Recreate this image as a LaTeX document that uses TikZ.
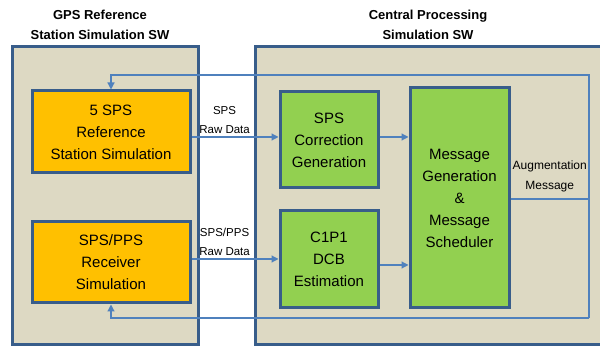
\documentclass[tikz,border=0pt]{standalone}
\usepackage{fontspec}
\setmainfont{Liberation Sans}
\usetikzlibrary{arrows.meta}

\definecolor{fondo}{HTML}{DDD9C3}
\definecolor{bordo}{HTML}{385D8A}
\definecolor{arancio}{HTML}{FFC000}
\definecolor{verde}{HTML}{92D050}
\definecolor{linea}{HTML}{4F81BD}

\tikzset{
  swbox/.style={draw=bordo, fill=fondo, line width=3pt, inner sep=0pt},
  blocco/.style={draw=bordo, line width=3pt, align=center, inner sep=0pt, font=\fontsize{15}{22}\selectfont},
  titolo/.style={align=center, font=\bfseries\fontsize{13}{20}\selectfont},
  etich/.style={align=center, inner sep=0pt, text=black, font=\fontsize{11.5}{19}\selectfont},
  conn/.style={draw=linea, line width=1.2pt, -{Triangle[length=7pt,width=7pt]}},
}

\begin{document}
\begin{tikzpicture}[x=1pt,y=-1pt]
    \fill[white] (0,0) rectangle (600,347);
    \useasboundingbox (0,0) rectangle (600,347);
    %titoli
    \node[titolo] (tref) at (100,25) {GPS Reference\\Station Simulation SW};
    \node[titolo] (tcen) at (428,25) {Central Processing\\Simulation SW};
    %contenitori
    \node[swbox, minimum width=186pt, minimum height=298pt] (refsw) at (105,196) {};
    \node[swbox, minimum width=365pt, minimum height=298pt] (censw) at (437.5,196) {};
    %blocchi stazione
    \node[blocco, fill=arancio, minimum width=158pt, minimum height=82pt] (sps5) at (111,132) {5 SPS\\Reference\\Station Simulation};
    \node[blocco, fill=arancio, minimum width=158pt, minimum height=81pt] (rcv) at (111,262.5) {SPS/PPS\\Receiver\\Simulation};
    %blocchi elaborazione
    \node[blocco, fill=verde, minimum width=98pt, minimum height=96pt] (corr) at (329,140) {SPS\\Correction\\Generation};
    \node[blocco, fill=verde, minimum width=98pt, minimum height=97pt] (dcb) at (329,259.5) {C1P1\\DCB\\Estimation};
    \node[blocco, fill=verde, minimum width=99pt, minimum height=220pt] (msg) at (459.5,198) {Message\\Generation\\\&\\Message\\Scheduler};
    %dati grezzi
    \draw[conn] ([yshift=-5pt]sps5.east) -- ([yshift=-5pt]sps5.east -| corr.west) node[etich, pos=0.38, above=3pt] {SPS\\Raw Data};
    \draw[conn] ([yshift=3.5pt]rcv.east) -- ([yshift=3.5pt]rcv.east -| dcb.west) node[etich, pos=0.38, above=3pt] {SPS/PPS\\Raw Data};
    \draw[conn] ([yshift=3pt]corr.east) -- ([yshift=3pt]corr.east -| msg.west);
    \draw[conn] ([yshift=-5.5pt]dcb.east) -- ([yshift=-5.5pt]dcb.east -| msg.west);
    %ritorno
    \coordinate (rtop) at (589,75);
    \coordinate (rbot) at (589,318);
    \draw[draw=linea, line width=1.2pt] ([yshift=-1pt]msg.east) -- ([yshift=-1pt]msg.east -| rtop) node[etich, midway, above=6pt, font=\fontsize{12}{20}\selectfont] {Augmentation\\Message};
    \draw[conn] (rbot) -- (rtop) -| (sps5.north);
    \draw[conn] (rbot) -| (rcv.south);
\end{tikzpicture}
\end{document}
